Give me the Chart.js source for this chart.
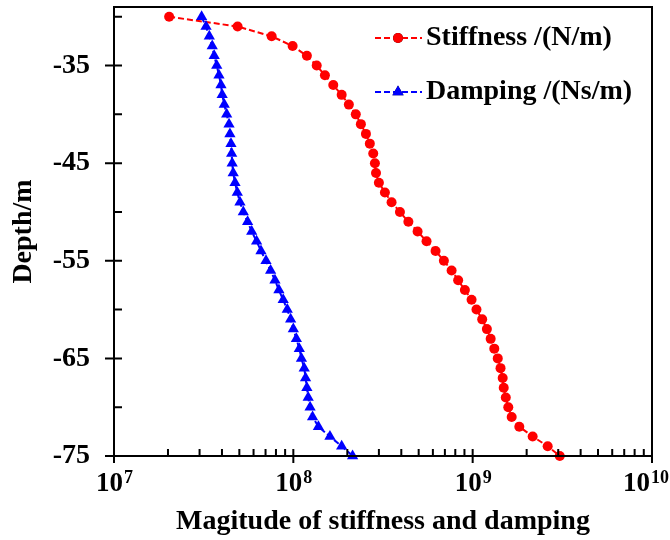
<!DOCTYPE html>
<html>
<head>
<meta charset="utf-8">
<script src="https://cdn.jsdelivr.net/npm/chart.js@4/dist/chart.umd.min.js"></script>
<style>
  html, body { margin: 0; padding: 0; background: #fff; }
  #wrap { width: 670px; height: 540px; }
</style>
</head>
<body>
<div id="wrap"><canvas id="c" width="670" height="540"></canvas></div>
<script>
// depth of each point (m)
var depth = [-30,-31,-32,-33,-34,-35,-36,-37,-38,-39,-40,-41,-42,-43,-44,-45,-46,-47,-48,-49,-50,
	-51,-52,-53,-54,-55,-56,-57,-58,-59,-60,-61,-62,-63,-64,-65,-66,-67,-68,-69,-70,-71,-72,-73,-74,-75];

// stiffness N/m
var stiffness = [2.03e7, 4.89e7, 7.57e7, 9.91e7, 1.19e8, 1.35e8, 1.50e8, 1.67e8, 1.86e8, 2.04e8,
	2.23e8, 2.38e8, 2.54e8, 2.67e8, 2.79e8, 2.85e8, 2.89e8, 3.00e8, 3.24e8, 3.53e8,
	3.93e8, 4.38e8, 4.93e8, 5.53e8, 6.21e8, 6.91e8, 7.63e8, 8.30e8, 9.05e8, 9.86e8,
	1.05e9, 1.13e9, 1.20e9, 1.26e9, 1.32e9, 1.38e9, 1.43e9, 1.47e9, 1.49e9, 1.53e9,
	1.58e9, 1.65e9, 1.82e9, 2.16e9, 2.62e9, 3.06e9];

// damping Ns/m
var damping = [3.08e7, 3.26e7, 3.40e7, 3.53e7, 3.62e7, 3.74e7, 3.85e7, 3.95e7, 4.01e7, 4.12e7,
	4.25e7, 4.38e7, 4.43e7, 4.49e7, 4.53e7, 4.56e7, 4.62e7, 4.73e7, 4.87e7, 5.04e7,
	5.26e7, 5.56e7, 5.86e7, 6.24e7, 6.60e7, 7.04e7, 7.47e7, 7.90e7, 8.31e7, 8.78e7,
	9.25e7, 9.66e7, 1.00e8, 1.04e8, 1.08e8, 1.11e8, 1.15e8, 1.17e8, 1.19e8, 1.21e8,
	1.24e8, 1.28e8, 1.38e8, 1.60e8, 1.86e8, 2.14e8];

var seriesNames = ["Stiffness /(N/m)", "Damping /(Ns/m)"];
var yMajor = [-35, -45, -55, -65, -75];
var yMinor = [-30, -40, -50, -60, -70];
var xDecades = [1e7, 1e8, 1e9, 1e10];
var xExponents = ["7", "8", "9", "10"];

var FONT = "'Liberation Serif', 'Times New Roman', serif";

function pts(xs) {
	return xs.map((v, i) => ({x: v, y: depth[i]}));
}

// frame, tick marks, x labels and legend
var decor = {
	id: "decor",
	afterDraw(chart) {
		var ctx = chart.ctx, a = chart.chartArea;
		var xs = chart.scales.x, ys = chart.scales.y;
		ctx.save();
		ctx.strokeStyle = "#000";
		ctx.lineWidth = 2;
		ctx.strokeRect(a.left, a.top, a.right - a.left, a.bottom - a.top);

		ctx.beginPath();
		yMajor.forEach(v => {
			var p = ys.getPixelForValue(v);
			ctx.moveTo(a.left - 9, p); ctx.lineTo(a.left + 8, p);
		});
		yMinor.forEach(v => {
			var p = ys.getPixelForValue(v);
			ctx.moveTo(a.left, p); ctx.lineTo(a.left + 8, p);
		});
		xDecades.forEach((d, i) => {
			var p = xs.getPixelForValue(d);
			ctx.moveTo(p, a.bottom - 7); ctx.lineTo(p, a.bottom + 7);
			if (i < xDecades.length - 1) {
				for (var k = 2; k < 10; k++) {
					var q = xs.getPixelForValue(k * d);
					ctx.moveTo(q, a.bottom); ctx.lineTo(q, a.bottom - 7);
				}
			}
		});
		ctx.stroke();

		// 10^n labels, the last one kept inside the canvas
		ctx.fillStyle = "#000";
		ctx.textBaseline = "alphabetic";
		xDecades.forEach((d, i) => {
			var p = xs.getPixelForValue(d);
			ctx.font = "bold 27px " + FONT;
			var w1 = ctx.measureText("10").width;
			ctx.font = "bold 18px " + FONT;
			var w2 = ctx.measureText(xExponents[i]).width;
			var x0 = Math.min(p - (w1 + w2) / 2, chart.width - 1 - w1 - w2 - 1);
			ctx.font = "bold 27px " + FONT;
			ctx.textAlign = "left";
			ctx.fillText("10", x0, 491);
			ctx.font = "bold 18px " + FONT;
			ctx.fillText(xExponents[i], x0 + w1 + 1, 483);
		});

		// legend
		var rows = [38, 92];
		chart.data.datasets.forEach((ds, i) => {
			var y = rows[i];
			ctx.strokeStyle = ds.borderColor;
			ctx.lineWidth = 2;
			ctx.setLineDash([6, 3]);
			ctx.beginPath();
			ctx.moveTo(375, y); ctx.lineTo(422, y);
			ctx.stroke();
			ctx.setLineDash([]);
			Chart.helpers.drawPoint(ctx, {pointStyle: ds.pointStyle, radius: ds.pointRadius, borderWidth: 0}, 398, y);
			ctx.fillStyle = ds.backgroundColor;
			ctx.fill();
			ctx.fillStyle = "#000";
			ctx.font = "bold 28px " + FONT;
			ctx.textAlign = "left";
			ctx.textBaseline = "middle";
			ctx.fillText(ds.label, 426, y);
		});
		ctx.restore();
	}
};

var ctx = document.getElementById("c").getContext("2d");
var chart = new Chart(ctx, {
	type: "scatter",
	data: {
		datasets: [{
			label: seriesNames[0],
			data: pts(stiffness),
			showLine: true,
			borderColor: "#FF0000",
			backgroundColor: "#FF0000",
			borderWidth: 2,
			borderDash: [6, 3],
			pointStyle: "circle",
			pointRadius: 5,
			pointBorderWidth: 0,
			clip: false,
			order: 1
		}, {
			label: seriesNames[1],
			data: pts(damping),
			showLine: true,
			borderColor: "#0000FF",
			backgroundColor: "#0000FF",
			borderWidth: 2,
			borderDash: [6, 3],
			pointStyle: "triangle",
			pointRadius: 6.5,
			pointBorderWidth: 0,
			clip: false,
			order: 0
		}]
	},
	options: {
		responsive: false,
		animation: false,
		events: [],
		layout: { padding: { top: 7, right: 18, left: 0, bottom: 0 } },
		plugins: { legend: { display: false }, tooltip: { enabled: false } },
		scales: {
			x: {
				type: "logarithmic",
				min: 1e7,
				max: 1e10,
				grid: { display: false, drawTicks: false },
				border: { display: false },
				ticks: { display: false },
				title: {
					display: true,
					text: "Magitude of stiffness and damping",
					color: "#000",
					font: { family: FONT, size: 28, weight: "bold" },
					padding: { top: 0, bottom: 1 }
				},
				afterFit: s => {
					s.height = 84;
					s.paddingLeft = 0; s.paddingRight = 0;
				}
			},
			y: {
				type: "linear",
				min: -75,
				max: -29,
				grid: { display: false, drawTicks: false },
				border: { display: false },
				afterBuildTicks: s => {
					s.ticks = yMinor.concat(yMajor).sort((a, b) => a - b).map(v => ({value: v}));
				},
				ticks: {
					padding: 24,
					color: "#000",
					font: { family: FONT, size: 28, weight: "bold" },
					autoSkip: false,
					callback: v => yMajor.indexOf(v) >= 0 ? String(v) : ""
				},
				title: {
					display: true,
					text: "Depth/m",
					color: "#000",
					font: { family: FONT, size: 28, weight: "bold" },
					padding: { top: 7, bottom: 0 }
				},
				afterFit: s => {
					s.width = 114;
					s.paddingTop = 0; s.paddingBottom = 0;
				}
			}
		}
	},
	plugins: [decor]
});
</script>
</body>
</html>
